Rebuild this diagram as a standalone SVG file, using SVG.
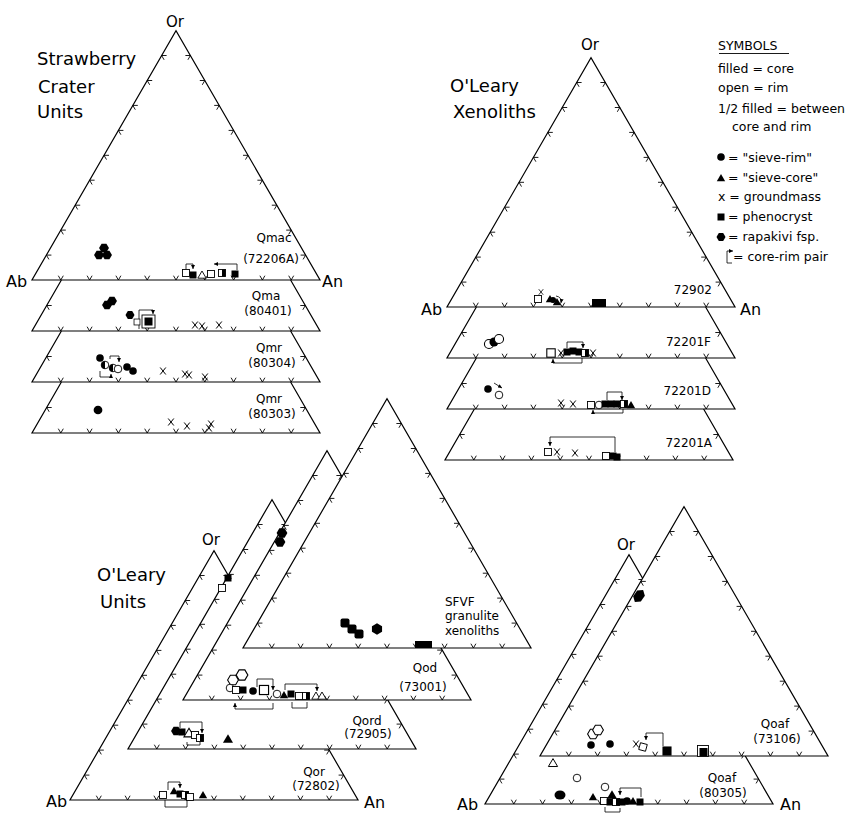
<svg xmlns="http://www.w3.org/2000/svg" width="852" height="815" viewBox="0 0 852 815">
<style>
text{font-family:"DejaVu Sans","Liberation Sans",sans-serif;fill:#000}
.ttl{font-size:18px}
.ax{font-size:16px}
.or{font-size:15px}
.lb{font-size:12px}
.lg{font-size:12.5px}
.ln{fill:none;stroke:#000;stroke-width:1.2}
.tkp{fill:none;stroke:#000;stroke-width:0.9}
.br{fill:none;stroke:#000;stroke-width:0.8}
.brm{fill:none;stroke:#000;stroke-width:0.8;marker-end:url(#ah)}
</style>
<defs>
<marker id="ah" viewBox="0 0 6 6" refX="6" refY="3" markerWidth="4" markerHeight="4" markerUnits="userSpaceOnUse" orient="auto"><path d="M0,0L6,3L0,6Z" fill="#000"/></marker>
<g id="tri">
<path d="M0,0H288L144,-249.4Z" fill="#fff" stroke="#000" stroke-width="1.2"/>
<path class="tkp" d="M26.3,-4.3L28.8,0L31.3,-4.3M55.1,-4.3L57.6,0L60.1,-4.3M83.9,-4.3L86.4,0L88.9,-4.3M112.7,-4.3L115.2,0L117.7,-4.3M141.5,-4.3L144,0L146.5,-4.3M170.3,-4.3L172.8,0L175.3,-4.3M199.1,-4.3L201.6,0L204.1,-4.3M227.9,-4.3L230.4,0L232.9,-4.3M256.7,-4.3L259.2,0L261.7,-4.3M19.4,-24.9L14.4,-24.9L16.9,-20.6M33.8,-49.9L28.8,-49.9L31.3,-45.6M48.2,-74.8L43.2,-74.8L45.7,-70.5M62.6,-99.8L57.6,-99.8L60.1,-95.5M77,-124.7L72,-124.7L74.5,-120.4M91.4,-149.6L86.4,-149.6L88.9,-145.3M105.8,-174.6L100.8,-174.6L103.3,-170.3M120.2,-199.5L115.2,-199.5L117.7,-195.2M134.6,-224.5L129.6,-224.5L132.1,-220.2M268.6,-24.9L273.6,-24.9L271.1,-20.6M254.2,-49.9L259.2,-49.9L256.7,-45.6M239.8,-74.8L244.8,-74.8L242.3,-70.5M225.4,-99.8L230.4,-99.8L227.9,-95.5M211,-124.7L216,-124.7L213.5,-120.4M196.6,-149.6L201.6,-149.6L199.1,-145.3M182.2,-174.6L187.2,-174.6L184.7,-170.3M167.8,-199.5L172.8,-199.5L170.3,-195.2M153.4,-224.5L158.4,-224.5L155.9,-220.2"/>
</g>
<g id="strip">
<path class="ln" d="M29.4,-51L0,0H288L258.6,-51"/>
<path class="tkp" d="M26.3,-4.3L28.8,0L31.3,-4.3M55.1,-4.3L57.6,0L60.1,-4.3M83.9,-4.3L86.4,0L88.9,-4.3M112.7,-4.3L115.2,0L117.7,-4.3M141.5,-4.3L144,0L146.5,-4.3M170.3,-4.3L172.8,0L175.3,-4.3M199.1,-4.3L201.6,0L204.1,-4.3M227.9,-4.3L230.4,0L232.9,-4.3M256.7,-4.3L259.2,0L261.7,-4.3M19.7,-25.5L14.7,-25.5L17.2,-21.2M268.3,-25.5L273.3,-25.5L270.8,-21.2"/>
</g>
<rect id="sqF" x="-3.5" y="-3.5" width="7" height="7" fill="#000"/>
<rect id="sqO" x="-3.5" y="-3.5" width="7" height="7" fill="#fff" stroke="#000" stroke-width="0.9"/>
<g id="sqH"><rect x="-3.5" y="-3.5" width="7" height="7" fill="#fff" stroke="#000" stroke-width="0.9"/><rect x="0" y="-3.5" width="3.5" height="7" fill="#000"/></g>
<circle id="ciF" r="3.8" fill="#000"/>
<circle id="ciO" r="3.8" fill="#fff" stroke="#000" stroke-width="0.9"/>
<g id="ciH"><circle r="3.8" fill="#fff" stroke="#000" stroke-width="0.9"/><path d="M0,-3.8A3.8,3.8 0 0 0 0,3.8Z" fill="#000"/></g>
<path id="trF" d="M0,-4L4.2,3.2H-4.2Z" fill="#000"/>
<path id="trO" d="M0,-4L4.2,3.2H-4.2Z" fill="#fff" stroke="#000" stroke-width="0.9"/>
<path id="hxF" d="M-4.5,0L-2.2,-3.9H2.2L4.5,0L2.2,3.9H-2.2Z" fill="#000"/>
<path id="hxO" d="M-4.5,0L-2.2,-3.9H2.2L4.5,0L2.2,3.9H-2.2Z" fill="#fff" stroke="#000" stroke-width="0.9"/>
<path id="xm" d="M-2.8,-3.5L2.8,3.5M2.8,-3.5L-2.8,3.5" fill="none" stroke="#000" stroke-width="1"/>
</defs>
<rect width="852" height="815" fill="#fff"/>

<g id="panel-strawberry">
<use href="#tri" transform="translate(32,280)"/>
<use href="#strip" transform="translate(32,331)"/>
<use href="#strip" transform="translate(32,382)"/>
<use href="#strip" transform="translate(32,433)"/>
<text class="ttl" x="37" y="65">Strawberry</text>
<text class="ttl" x="38" y="93">Crater</text>
<text class="ttl" x="37" y="118">Units</text>
<text class="or" x="175" y="27" text-anchor="middle">Or</text>
<text class="ax" x="6" y="287">Ab</text>
<text class="ax" x="322" y="287">An</text>
<text class="lb" x="274" y="242" text-anchor="middle">Qmac</text>
<text class="lb" x="271" y="263" text-anchor="middle">(72206A)</text>
<text class="lb" x="266" y="300" text-anchor="middle">Qma</text>
<text class="lb" x="268" y="315" text-anchor="middle">(80401)</text>
<text class="lb" x="269" y="352" text-anchor="middle">Qmr</text>
<text class="lb" x="272" y="367" text-anchor="middle">(80304)</text>
<text class="lb" x="269" y="403" text-anchor="middle">Qmr</text>
<text class="lb" x="272" y="418" text-anchor="middle">(80303)</text>
</g>

<g id="panel-xenoliths">
<use href="#tri" transform="translate(447,307)"/>
<use href="#strip" transform="translate(447,358)"/>
<use href="#strip" transform="translate(447,409)"/>
<use href="#strip" transform="translate(445,460)"/>
<text class="ttl" x="450" y="92">O'Leary</text>
<text class="ttl" x="453" y="118">Xenoliths</text>
<text class="or" x="590" y="50" text-anchor="middle">Or</text>
<text class="ax" x="421" y="315">Ab</text>
<text class="ax" x="740" y="315">An</text>
<text class="lb" x="712" y="294" text-anchor="end">72902</text>
<text class="lb" x="711" y="346" text-anchor="end">72201F</text>
<text class="lb" x="711" y="395" text-anchor="end">72201D</text>
<text class="lb" x="712" y="447" text-anchor="end">72201A</text>
</g>

<g id="legend">
<text class="lg" x="718" y="50">SYMBOLS</text>
<line x1="719" y1="53.5" x2="789" y2="53.5" stroke="#000" stroke-width="0.9"/>
<text class="lg" x="718" y="73">filled = core</text>
<text class="lg" x="718" y="92">open = rim</text>
<text class="lg" x="718" y="113">1/2 filled = between</text>
<text class="lg" x="732" y="131">core and rim</text>
<use href="#ciF" x="721" y="157"/>
<text class="lg" x="728" y="162">= "sieve-rim"</text>
<use href="#trF" x="721" y="178"/>
<text class="lg" x="728" y="182">= "sieve-core"</text>
<text class="lg" x="718" y="201">x = groundmass</text>
<use href="#sqF" x="721" y="217"/>
<text class="lg" x="728" y="221">= phenocryst</text>
<use href="#hxF" x="721" y="237"/>
<text class="lg" x="728" y="241">= rapakivi fsp.</text>
<path class="brm" d="M732,263H727V251H733"/>
<text class="lg" x="733" y="261">= core-rim pair</text>
</g>

<g id="panel-oleary-units">
<use href="#tri" transform="translate(70,800)"/>
<use href="#tri" transform="translate(128,749)"/>
<use href="#tri" transform="translate(183,700)"/>
<use href="#tri" transform="translate(243,648)"/>
<text class="ttl" x="97" y="581">O'Leary</text>
<text class="ttl" x="100" y="608">Units</text>
<text class="or" x="211" y="545" text-anchor="middle">Or</text>
<text class="ax" x="46" y="807">Ab</text>
<text class="ax" x="364" y="808">An</text>
<text class="lb" x="445" y="606">SFVF</text>
<text class="lb" x="445" y="620">granulite</text>
<text class="lb" x="445" y="635">xenoliths</text>
<text class="lb" x="425" y="672" text-anchor="middle">Qod</text>
<text class="lb" x="423" y="691" text-anchor="middle">(73001)</text>
<text class="lb" x="367" y="725" text-anchor="middle">Qord</text>
<text class="lb" x="368" y="738" text-anchor="middle">(72905)</text>
<text class="lb" x="314" y="776" text-anchor="middle">Qor</text>
<text class="lb" x="316" y="790" text-anchor="middle">(72802)</text>
</g>

<g id="panel-qoaf">
<use href="#tri" transform="translate(485,804)"/>
<use href="#tri" transform="translate(540,756)"/>
<text class="or" x="626" y="550" text-anchor="middle">Or</text>
<text class="ax" x="457" y="810">Ab</text>
<text class="ax" x="780" y="810">An</text>
<text class="lb" x="775" y="728" text-anchor="middle">Qoaf</text>
<text class="lb" x="777" y="743" text-anchor="middle">(73106)</text>
<text class="lb" x="722" y="782" text-anchor="middle">Qoaf</text>
<text class="lb" x="723" y="797" text-anchor="middle">(80305)</text>
</g>

<g id="connectors">
<path class="brm" d="M186,269V264H193V269"/>
<path class="brm" d="M237,270V264H214"/>
<path class="brm" d="M139,329V310H153V314"/>
<path class="brm" d="M110,359V356H119V362"/>
<path class="brm" d="M100,371V377H111V374"/>
<path class="brm" d="M556,296Q562,297 561,303"/>
<path class="brm" d="M567,348V342H583V348"/>
<path class="brm" d="M582,358V363H553V359"/>
<path class="brm" d="M494,383L502,388"/>
<path class="brm" d="M607,400V392H622V400"/>
<path class="brm" d="M623,409V413H593V410"/>
<path class="brm" d="M615,452V437H550V446"/>
<path class="brm" d="M257,687V679H273V690"/>
<path class="brm" d="M285,690V684H317V691"/>
<path class="brm" d="M273,703V709H235V703"/>
<path class="br" d="M292,702V708H307V702"/>
<path class="brm" d="M180,728V722H202V733"/>
<path class="br" d="M187,742V745H200V742"/>
<path class="brm" d="M168,790V782H180V788"/>
<path class="br" d="M165,800V807H187V801"/>
<path class="brm" d="M663,746V733H646V740"/>
<path class="brm" d="M641,797V788H620V795"/>
<path class="br" d="M605,807V812H620V808"/>
</g>

<g id="data">
<use href="#hxF" transform="translate(104,248) scale(1.1)"/>
<use href="#hxF" transform="translate(99,255) scale(1.1)"/>
<use href="#hxF" transform="translate(107,255) scale(1.1)"/>
<use href="#sqO" x="186" y="273"/>
<use href="#sqF" x="193" y="275"/>
<use href="#trO" x="202" y="275"/>
<use href="#sqO" x="211" y="274"/>
<use href="#sqH" x="222" y="273"/>
<use href="#sqF" x="235" y="274"/>

<use href="#hxF" transform="translate(107,305) scale(1.1)"/>
<use href="#hxF" transform="translate(112,301) scale(1.1)"/>
<use href="#hxF" x="130" y="315"/>
<use href="#sqO" transform="translate(137,322) scale(0.85)"/>
<rect x="142" y="315" width="13" height="13" fill="#fff" stroke="#000" stroke-width="0.9"/>
<rect x="144.5" y="317.5" width="8" height="8" fill="#000"/>
<use href="#xm" x="195" y="325"/>
<use href="#xm" x="202" y="326"/>
<use href="#xm" x="219" y="325"/>

<use href="#ciF" x="100" y="358"/>
<use href="#ciH" x="105" y="365"/>
<use href="#ciH" x="113" y="368"/>
<use href="#ciO" x="118" y="369"/>
<use href="#ciF" x="127" y="367"/>
<use href="#ciF" x="133" y="371"/>
<use href="#xm" x="163" y="371"/>
<use href="#xm" x="185" y="374"/>
<use href="#xm" x="189" y="375"/>
<use href="#xm" x="205" y="377"/>

<use href="#ciF" transform="translate(98,410) scale(1.15)"/>
<use href="#xm" x="171" y="422"/>
<use href="#xm" x="187" y="426"/>
<use href="#xm" x="209" y="428"/>
<use href="#xm" x="211" y="424"/>

<use href="#xm" transform="translate(541,292) scale(0.8)"/>
<use href="#sqO" x="538" y="299"/>
<use href="#trF" x="550" y="299"/>
<use href="#ciF" transform="translate(553,300) scale(0.8)"/>
<use href="#trF" x="557" y="302"/>
<rect x="592" y="299" width="14" height="8" fill="#000"/>

<use href="#ciO" transform="translate(489,344) scale(1.2)"/>
<use href="#ciF" transform="translate(494,342) scale(1.2)"/>
<use href="#ciO" transform="translate(499,339) scale(1.2)"/>
<use href="#sqO" transform="translate(551,353) scale(1.2)"/>
<use href="#xm" x="561" y="353"/>
<use href="#sqF" x="567" y="352"/>
<use href="#sqF" x="573" y="351"/>
<use href="#sqF" x="579" y="352"/>
<use href="#sqH" x="585" y="353"/>
<use href="#xm" x="593" y="353"/>

<use href="#ciF" x="488" y="389"/>
<use href="#ciO" x="499" y="395"/>
<use href="#xm" x="561" y="403"/>
<use href="#xm" x="573" y="404"/>
<use href="#sqO" x="591" y="405"/>
<use href="#ciO" x="599" y="405"/>
<use href="#sqF" x="605" y="404"/>
<use href="#sqF" x="611" y="404"/>
<use href="#sqF" x="617" y="404"/>
<use href="#sqH" x="624" y="404"/>
<use href="#trF" x="631" y="405"/>

<use href="#sqO" x="548" y="452"/>
<use href="#xm" x="557" y="452"/>
<use href="#xm" x="575" y="453"/>
<use href="#sqO" x="606" y="456"/>
<use href="#sqF" x="613" y="456"/>
<use href="#sqF" x="617" y="457"/>

<rect x="340.5" y="618.5" width="9" height="9" rx="2" fill="#000"/>
<rect x="347.5" y="624.5" width="9" height="9" rx="2" fill="#000"/>
<rect x="354.5" y="629.5" width="9" height="9" rx="2" fill="#000"/>
<use href="#hxF" transform="translate(377,629) rotate(90) scale(1.3)"/>
<rect x="415" y="641" width="17" height="7" fill="#000"/>

<use href="#hxO" transform="translate(242,675) scale(1.3)"/>
<use href="#hxO" transform="translate(233,680) scale(1.2)"/>
<use href="#ciO" x="230" y="688"/>
<use href="#sqO" x="236" y="690"/>
<use href="#sqF" x="243" y="690"/>
<use href="#ciF" x="253" y="691"/>
<use href="#sqO" transform="translate(264,690) scale(1.3)"/>
<use href="#ciO" x="277" y="694"/>
<use href="#trF" x="284" y="695"/>
<use href="#sqF" x="291" y="694"/>
<use href="#sqO" x="299" y="696"/>
<use href="#sqH" x="306" y="696"/>
<use href="#trO" x="316" y="696"/>
<use href="#trO" x="322" y="696"/>

<use href="#hxF" transform="translate(176,731) scale(1.1)"/>
<use href="#sqF" x="182" y="732"/>
<use href="#trO" transform="translate(189,733) scale(1.2)"/>
<use href="#sqO" x="195" y="735"/>
<use href="#sqH" x="200" y="738"/>
<use href="#trF" transform="translate(228,739) scale(1.2)"/>

<use href="#sqO" x="163" y="795"/>
<use href="#trF" x="174" y="791"/>
<use href="#sqF" x="180" y="794"/>
<use href="#sqH" x="185" y="795"/>
<use href="#sqO" x="190" y="797"/>
<use href="#trF" x="203" y="795"/>

<use href="#sqF" x="228" y="578"/>
<use href="#sqO" x="222" y="588"/>
<use href="#hxF" transform="translate(282,533) scale(1.2)"/>
<use href="#hxF" transform="translate(280,542) scale(1.2)"/>

<use href="#hxF" transform="translate(639,596) rotate(-55) scale(1.6,1.2)"/>
<use href="#hxO" transform="translate(593,734) scale(1.2)"/>
<use href="#hxO" transform="translate(598,730) scale(1.2)"/>
<use href="#ciF" x="591" y="745"/>
<use href="#ciF" x="610" y="744"/>
<use href="#xm" x="636" y="744"/>
<use href="#sqO" transform="translate(643,747) rotate(15)"/>
<use href="#sqF" transform="translate(667,751) scale(1.3)"/>
<rect x="697.5" y="745.5" width="11" height="11" fill="#fff" stroke="#000" stroke-width="0.9"/>
<rect x="699.5" y="748" width="8" height="8" fill="#000"/>
<use href="#trO" transform="translate(553,763) scale(1.1)"/>

<use href="#ciO" x="577" y="778"/>
<ellipse cx="560" cy="795" rx="5.5" ry="4.5" fill="#000"/>
<use href="#trF" x="593" y="797"/>
<use href="#ciO" x="605" y="787"/>
<use href="#trF" transform="translate(612,795) scale(1.2)"/>
<use href="#sqO" x="604" y="801"/>
<use href="#sqF" x="610" y="802"/>
<use href="#sqH" x="616" y="802"/>
<use href="#sqF" x="622" y="802"/>
<use href="#ciF" x="627" y="801"/>
<use href="#trF" x="633" y="801"/>
<use href="#sqF" x="640" y="802"/>
</g>
</svg>
